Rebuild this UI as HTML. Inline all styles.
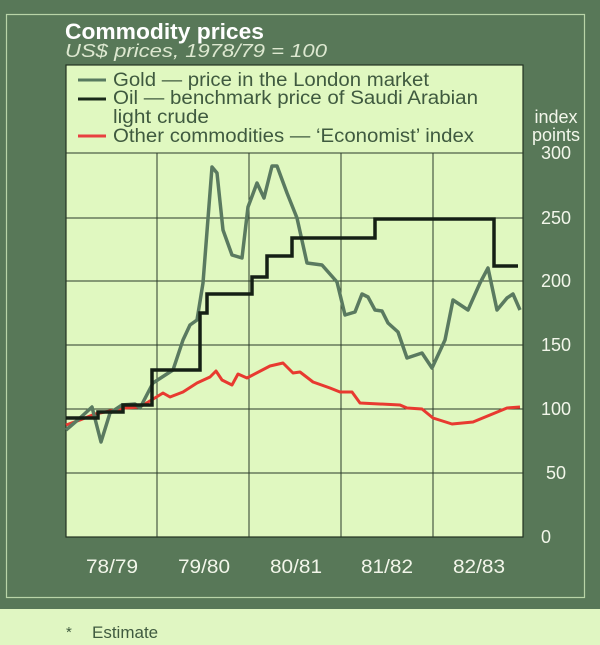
<!DOCTYPE html>
<html><head><meta charset="utf-8"><style>
html,body{margin:0;padding:0;width:600px;height:645px;overflow:hidden;background:#e0f6c2;}
svg{display:block;font-family:"Liberation Sans",sans-serif;}
</style></head><body>
<svg width="600" height="645" viewBox="0 0 600 645">
<rect x="0" y="0" width="600" height="609" fill="#587858"/>
<rect x="6.5" y="14.5" width="578" height="583" fill="none" stroke="#b9d4a8" stroke-width="1.2"/>
<text x="65" y="39" font-size="22" font-weight="bold" fill="#ffffff" textLength="199" lengthAdjust="spacingAndGlyphs">Commodity prices</text>
<text x="65" y="57" font-size="18" font-style="italic" fill="#dde8d0" textLength="262" lengthAdjust="spacingAndGlyphs">US$ prices, 1978/79 = 100</text>
<rect x="66" y="65" width="457" height="472" fill="#e0f8c0" stroke="#223322" stroke-width="1.2"/>
<g stroke="#2a3a2a" stroke-width="1">
<line x1="66" y1="153" x2="523" y2="153"/>
<line x1="66" y1="218" x2="523" y2="218"/>
<line x1="66" y1="281" x2="523" y2="281"/>
<line x1="66" y1="345" x2="523" y2="345"/>
<line x1="66" y1="409" x2="523" y2="409"/>
<line x1="66" y1="473" x2="523" y2="473"/>
<line x1="157" y1="153" x2="157" y2="537"/>
<line x1="249" y1="153" x2="249" y2="537"/>
<line x1="341" y1="153" x2="341" y2="537"/>
<line x1="433" y1="153" x2="433" y2="537"/>
</g>
<g font-size="19" fill="#3f5a3f">
<line x1="78" y1="80" x2="106" y2="80" stroke="#587a60" stroke-width="3"/>
<text x="113" y="86" textLength="316" lengthAdjust="spacingAndGlyphs">Gold — price in the London market</text>
<line x1="78" y1="99" x2="106" y2="99" stroke="#1a2a1a" stroke-width="3"/>
<text x="113" y="104" textLength="365" lengthAdjust="spacingAndGlyphs">Oil — benchmark price of Saudi Arabian</text>
<text x="113" y="123" textLength="96" lengthAdjust="spacingAndGlyphs">light crude</text>
<line x1="78" y1="136" x2="106" y2="136" stroke="#e84040" stroke-width="3"/>
<text x="113" y="142" textLength="361" lengthAdjust="spacingAndGlyphs">Other commodities — ‘Economist’ index</text>
</g>
<polyline fill="none" stroke="#e83a30" stroke-width="3" stroke-linejoin="round" points="66,425 80,420 95,414 110,411 125,408 140,407 163,393 170,397 183,392 197,383 210,377 216,371 222,380 232,385 238,374 247,378 270,366 283,363 293,373 300,372 313,382 330,388 340,392 352,392 360,403 400,405 407,408 422,409 433,418 452,424 473,422 490,415 507,408 520,407"/>
<polyline fill="none" stroke="#5a7a60" stroke-width="3.5" stroke-linejoin="round" points="66,430 80,418 92,407 101,442 110,413 122,405 135,404 140,408 153,383 173,370 183,340 190,325 197,320 203,283 212,167 217,173 223,230 232,255 242,258 248,207 257,183 264,198 272,166 277,166 287,193 297,218 307,263 322,265 337,282 345,315 355,312 362,294 368,297 375,310 382,311 388,323 398,332 407,358 422,353 432,368 445,340 453,300 468,310 480,283 488,268 497,310 507,298 513,294 520,310"/>
<polyline fill="none" stroke="#152015" stroke-width="3.5" points="66,418 98,418 98,412 123,412 123,405 152,405 152,370 200,370 200,313 207,313 207,294 252,294 252,277 267,277 267,256 292,256 292,238 375,238 375,219 494,219 494,266 518,266"/>
<g font-size="18" fill="#f2f6ea" text-anchor="middle">
<text x="556" y="123">index</text>
<text x="556" y="141">points</text>
<text x="556" y="159">300</text>
<text x="556" y="224">250</text>
<text x="556" y="287">200</text>
<text x="556" y="351">150</text>
<text x="556" y="415">100</text>
<text x="556" y="479">50</text>
<text x="546" y="543">0</text>
</g>
<g font-size="19" fill="#f2f6ea">
<text x="86" y="573" textLength="52" lengthAdjust="spacingAndGlyphs">78/79</text>
<text x="178" y="573" textLength="52" lengthAdjust="spacingAndGlyphs">79/80</text>
<text x="270" y="573" textLength="52" lengthAdjust="spacingAndGlyphs">80/81</text>
<text x="361" y="573" textLength="52" lengthAdjust="spacingAndGlyphs">81/82</text>
<text x="453" y="573" textLength="52" lengthAdjust="spacingAndGlyphs">82/83</text>
</g>
<text x="66" y="637" font-size="15" fill="#3f5a3f">*</text>
<text x="92" y="638" font-size="17" fill="#3f5a3f">Estimate</text>
</svg>
</body></html>
